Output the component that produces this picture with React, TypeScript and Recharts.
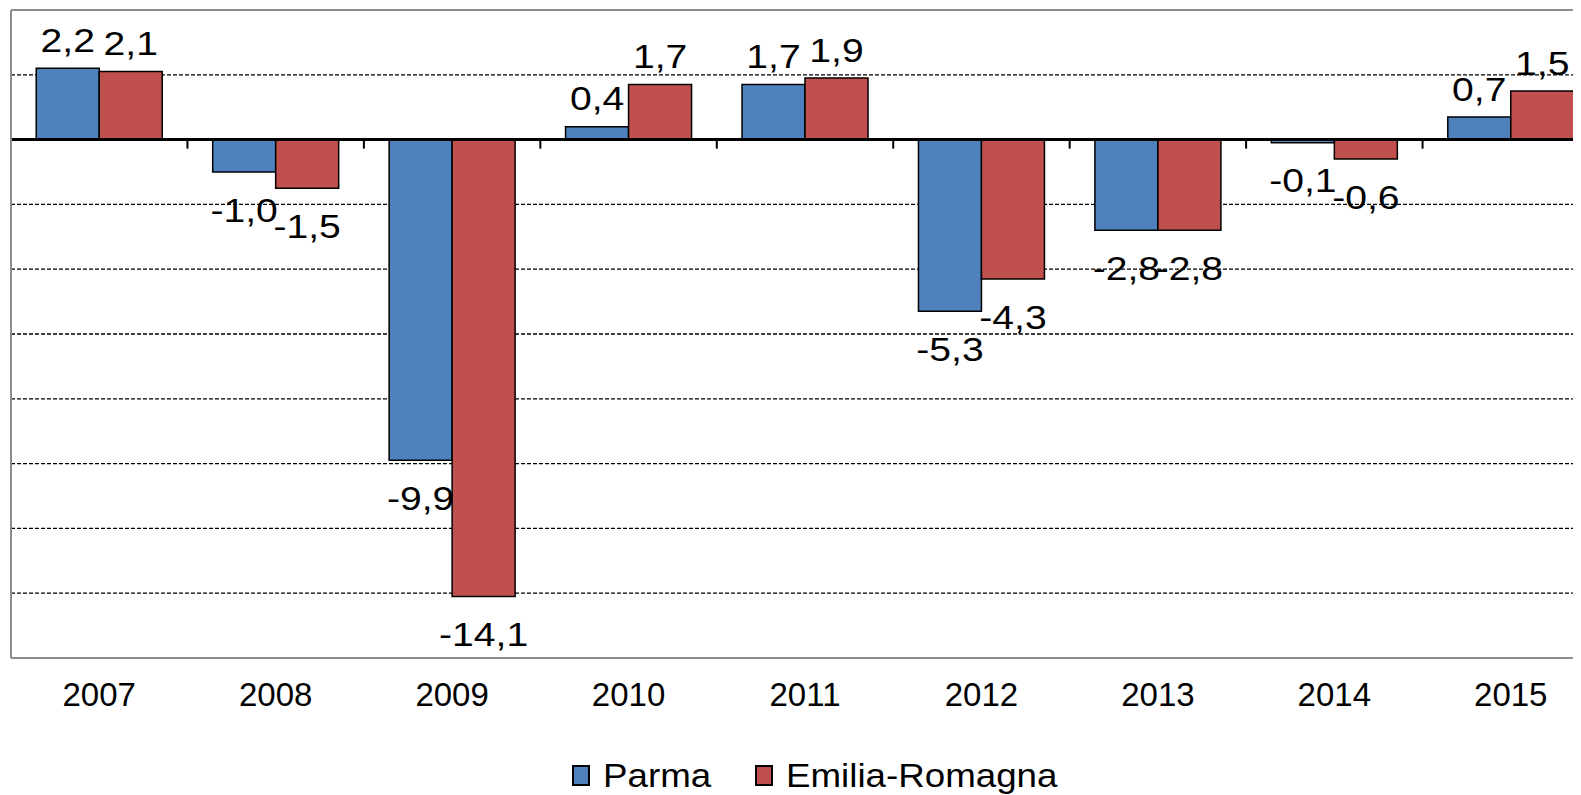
import React from "react";
import { Bar, BarChart, CartesianGrid, LabelList, ReferenceLine, XAxis, YAxis } from "recharts";

const years = ["2007", "2008", "2009", "2010", "2011", "2012", "2013", "2014", "2015"];
const parma = [2.2, -1.0, -9.9, 0.4, 1.7, -5.3, -2.8, -0.1, 0.7];
const emiliaRomagna = [2.1, -1.5, -14.1, 1.7, 1.9, -4.3, -2.8, -0.6, 1.5];
const yTicks = [-16, -14, -12, -10, -8, -6, -4, -2, 0, 2, 4];

const BLUE = "#4F81BD";
const RED = "#C0504D";
const FONT = "'Liberation Sans', Arial, sans-serif";

const data = years.map((year, i) => ({ year, parma: parma[i], emilia: emiliaRomagna[i] }));

const fmt = (v: number) => v.toFixed(1).replace(".", ",");

// labels sit above positive bars, below negative ones
const renderLabel = (props: any) => {
  const { x, y, width, height, value } = props;
  const v = Number(value);
  const top = Math.min(y, y + height);
  const bottom = Math.max(y, y + height);
  const cy = v >= 0 ? top - 28 : bottom + 38;
  const cx = x + width / 2;
  return (
    <text
      transform={`translate(${cx},${cy}) scale(1.15,1)`}
      textAnchor="middle"
      dominantBaseline="central"
      fontSize={34}
      fontFamily={FONT}
      fill="#000"
    >
      {fmt(v)}
    </text>
  );
};

const legendItems = [
  { name: "Parma", color: BLUE },
  { name: "Emilia-Romagna", color: RED },
];

export default function App() {
  return (
    <div style={{ position: "relative", width: 1573, height: 787, overflow: "hidden", fontFamily: FONT }}>
      <BarChart
        width={1597}
        height={787}
        data={data}
        margin={{ top: 2, right: 6, left: 3, bottom: 87 }}
        barCategoryGap="14.3%"
        barGap={0}
      >
        <CartesianGrid horizontal vertical={false} stroke="#000" strokeWidth={1.3} strokeDasharray="4 2" />
        <XAxis
          dataKey="year"
          axisLine={false}
          tickLine={false}
          tickSize={0}
          tickMargin={25}
          height={50}
          interval={0}
          tick={{ fontSize: 33, fill: "#000", fontFamily: FONT }}
        />
        <YAxis domain={[-16, 4]} ticks={yTicks} allowDataOverflow hide />
        <Bar dataKey="parma" fill={BLUE} stroke="#000" strokeWidth={1.5} isAnimationActive={false}>
          <LabelList dataKey="parma" content={renderLabel} />
        </Bar>
        <Bar dataKey="emilia" fill={RED} stroke="#000" strokeWidth={1.5} isAnimationActive={false}>
          <LabelList dataKey="emilia" content={renderLabel} />
        </Bar>
        {years.map((yr) => (
          <ReferenceLine
            key={yr}
            position="start"
            segment={[{ x: yr, y: 0 }, { x: yr, y: -0.28 }]}
            stroke="#000"
            strokeWidth={2}
          />
        ))}
        <ReferenceLine y={0} stroke="#000" strokeWidth={3} />
        <ReferenceLine y={4} stroke="#8c8c8c" strokeWidth={2} />
        <ReferenceLine y={-16} stroke="#8c8c8c" strokeWidth={2} />
        <ReferenceLine x="2007" position="start" stroke="#8c8c8c" strokeWidth={2} />
      </BarChart>
      <div
        style={{
          position: "absolute",
          left: 564,
          top: 750,
          display: "flex",
          alignItems: "center",
          fontSize: 34,
          lineHeight: "34px",
        }}
      >
        {legendItems.map((item, i) => (
          <div key={item.name} style={{ display: "flex", alignItems: "center", marginRight: i === 0 ? 44 : 0 }}>
            <span
              style={{
                display: "inline-block",
                width: 18,
                height: 21,
                boxSizing: "border-box",
                border: "2px solid #000",
                background: item.color,
                marginRight: 13,
              }}
            />
            <span style={{ display: "inline-block", transform: "scaleX(1.08)", transformOrigin: "left center", marginRight: i === 0 ? 8 : 0 }}>
              {item.name}
            </span>
          </div>
        ))}
      </div>
    </div>
  );
}
